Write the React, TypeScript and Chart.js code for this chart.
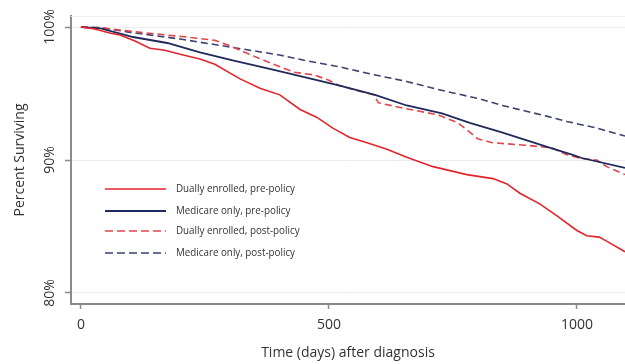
import React, { useEffect, useRef } from "react";
import { Chart, registerables } from "chart.js";

Chart.register(...registerables);

// ---- data ----
const DUAL_PRE_DAYS = [0, 28, 58, 79, 109, 139, 169, 200, 240, 270, 321, 361, 401, 442, 476, 508, 542, 577, 617, 657, 710, 778, 831, 859, 885, 925, 960, 1000, 1020, 1045, 1060, 1097];
const DUAL_PRE_PCT = [100, 99.85, 99.55, 99.4, 98.95, 98.4, 98.25, 97.95, 97.6, 97.2, 96.1, 95.4, 94.9, 93.8, 93.2, 92.4, 91.7, 91.3, 90.8, 90.2, 89.5, 88.9, 88.6, 88.2, 87.5, 86.7, 85.8, 84.7, 84.3, 84.2, 83.9, 83.1];

const MED_PRE_DAYS = [0, 40, 105, 174, 240, 306, 387, 442, 522, 593, 657, 728, 784, 847, 948, 990, 1010, 1097];
const MED_PRE_PCT = [100, 99.9, 99.25, 98.8, 98.1, 97.5, 96.8, 96.3, 95.6, 94.9, 94.1, 93.5, 92.8, 92.1, 90.9, 90.4, 90.15, 89.4];

const DUAL_POST_DAYS = [0, 50, 120, 200, 270, 300, 330, 375, 430, 470, 500, 520, 560, 590, 600, 650, 720, 760, 784, 800, 830, 900, 950, 980, 1010, 1040, 1060, 1085, 1097];
const DUAL_POST_PCT = [100, 99.9, 99.6, 99.3, 99.0, 98.6, 98.1, 97.4, 96.6, 96.4, 96.0, 95.6, 95.2, 94.9, 94.3, 93.9, 93.4, 92.8, 92.1, 91.6, 91.3, 91.1, 90.9, 90.4, 90.1, 90.0, 89.5, 89.1, 88.9];

const MED_POST_DAYS = [0, 40, 100, 200, 300, 400, 450, 522, 580, 657, 720, 804, 850, 939, 980, 1040, 1097];
const MED_POST_PCT = [100, 99.95, 99.6, 99.1, 98.5, 97.9, 97.5, 97.0, 96.5, 95.9, 95.3, 94.6, 94.1, 93.3, 92.9, 92.4, 91.8];

const SERIES_LABELS = [
  "Dually enrolled, pre-policy",
  "Medicare only, pre-policy",
  "Dually enrolled, post-policy",
  "Medicare only, post-policy",
];
const Y_TICKS = [80, 90, 100];
const X_TICKS = [0, 500, 1000];
const X_TITLE = "Time (days) after diagnosis";
const Y_TITLE = "Percent Surviving";

const RED = "#e2252b";
const NAVY = "#1f2a5a";
const RED_DASH = "#e0454b";
const NAVY_DASH = "#3d4170";

const toPts = (xs: number[], ys: number[]) => xs.map((x, i) => ({ x, y: ys[i] }));

export default function App() {
  const ref = useRef<HTMLCanvasElement | null>(null);

  useEffect(() => {
    document.body.style.margin = "0";
    const canvas = ref.current;
    if (!canvas) return;

    const styles = [
      { color: RED, dash: [] as number[], width: 1.6 },
      { color: NAVY, dash: [] as number[], width: 1.8 },
      { color: RED_DASH, dash: [7, 4], width: 1.6 },
      { color: NAVY_DASH, dash: [7, 4], width: 1.6 },
    ];
    const dataSets = [
      toPts(DUAL_PRE_DAYS, DUAL_PRE_PCT),
      toPts(MED_PRE_DAYS, MED_PRE_PCT),
      toPts(DUAL_POST_DAYS, DUAL_POST_PCT),
      toPts(MED_POST_DAYS, MED_POST_PCT),
    ];

    const overlay = {
      id: "overlay",
      afterDraw(chart: any) {
        const ctx = chart.ctx;
        const area = chart.chartArea;
        const ys = chart.scales.y;
        ctx.save();
        // faint top frame line
        ctx.strokeStyle = "#f0f0f0";
        ctx.lineWidth = 1;
        ctx.beginPath();
        ctx.moveTo(area.left, area.top + 0.5);
        ctx.lineTo(area.right, area.top + 0.5);
        ctx.stroke();
        // rotated y tick labels
        ctx.fillStyle = "#333";
        ctx.font = "14px 'Open Sans'";
        ctx.textAlign = "center";
        ctx.textBaseline = "middle";
        Y_TICKS.forEach((v) => {
          const py = ys.getPixelForValue(v);
          ctx.save();
          ctx.translate(50, py);
          ctx.rotate(-Math.PI / 2);
          ctx.fillText(v + "%", 0, 0);
          ctx.restore();
        });
        // legend inside plot
        const rows = [189, 211, 231, 253];
        ctx.font = "11px 'Open Sans'";
        ctx.textAlign = "left";
        ctx.textBaseline = "middle";
        const sx = 119 / ctx.measureText(SERIES_LABELS[0]).width;
        rows.forEach((ry, i) => {
          const s = styles[i];
          ctx.strokeStyle = s.color;
          ctx.lineWidth = s.width;
          ctx.setLineDash(s.dash.length ? [8, 4] : []);
          ctx.beginPath();
          ctx.moveTo(105, ry);
          ctx.lineTo(166, ry);
          ctx.stroke();
          ctx.setLineDash([]);
          ctx.fillStyle = "#333";
          ctx.save();
          ctx.translate(176, ry);
          ctx.scale(sx, 1);
          ctx.fillText(SERIES_LABELS[i], 0, 0);
          ctx.restore();
        });
        ctx.restore();
      },
    };

    const chart = new Chart(canvas, {
      type: "line",
      data: {
        datasets: dataSets.map((d, i) => ({
          label: SERIES_LABELS[i],
          data: d,
          borderColor: styles[i].color,
          borderWidth: styles[i].width,
          borderDash: styles[i].dash,
          pointRadius: 0,
          tension: 0,
          fill: false,
        })),
      },
      options: {
        animation: false,
        responsive: false,
        layout: { padding: { top: 16, right: 0, left: 0, bottom: 0 } },
        plugins: { legend: { display: false }, tooltip: { enabled: false } },
        scales: {
          x: {
            type: "linear",
            min: -20,
            max: 1097,
            afterFit: (s: any) => { s.height = 60; },
            afterBuildTicks: (s: any) => { s.ticks = X_TICKS.map((v) => ({ value: v })); },
            ticks: {
              color: "#333",
              font: { size: 14, family: "'Open Sans'" },
              padding: 8,
              maxRotation: 0,
              callback: (v: any) => String(v),
            },
            grid: { drawOnChartArea: false, drawTicks: true, tickLength: 5, tickColor: "#8a8a8a", tickWidth: 1.5 },
            border: { display: true, color: "#8a8a8a", width: 2 },
            title: { display: true, text: X_TITLE, color: "#333", font: { size: 14, family: "'Open Sans'" }, padding: { top: 0, bottom: 3 } },
          },
          y: {
            type: "linear",
            min: 79.17,
            max: 100.83,
            afterFit: (s: any) => { s.width = 71; },
            afterBuildTicks: (s: any) => { s.ticks = Y_TICKS.map((v) => ({ value: v })); },
            ticks: { display: false },
            grid: { color: "#ececec", lineWidth: 1, drawTicks: true, tickLength: 6, tickColor: "#8a8a8a", tickWidth: 1.5 },
            border: { display: true, color: "#8a8a8a", width: 2 },
            title: { display: true, text: Y_TITLE, color: "#333", font: { size: 14, family: "'Open Sans'" }, padding: { top: 12, bottom: 0 } },
          },
        },
      },
      plugins: [overlay],
    } as any);

    return () => chart.destroy();
  }, []);

  return (
    <div style={{ position: "fixed", left: 0, top: 0, width: 625, height: 364, background: "#fff" }}>
      <canvas ref={ref} width={625} height={364} style={{ display: "block" }} />
    </div>
  );
}
